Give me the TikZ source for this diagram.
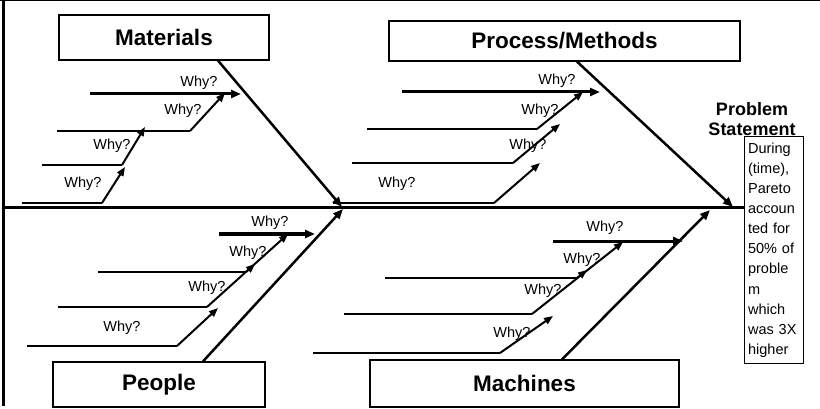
\documentclass[tikz,border=0pt]{standalone}
\usepackage{fontspec}
\setmainfont{Liberation Sans}
\usetikzlibrary{arrows.meta}
\begin{document}
\begin{tikzpicture}[x=1pt,y=-1pt,
  cat/.style={draw,line width=1.2pt,inner sep=0pt,font=\fontsize{22.5}{26}\selectfont\bfseries},
  why/.style={font=\fontsize{14.5}{16}\selectfont,inner sep=0pt},
  bone/.style={line width=2.5pt,-{Triangle[length=10pt,width=8pt]}},
  spine/.style={line width=3pt},
  twig/.style={line width=1.3pt},
  twigup/.style={line width=2pt,-{Triangle[length=9pt,width=7pt]}},
  lead/.style={line width=3pt,-{Triangle[length=10pt,width=8pt]}},
]
\useasboundingbox (0,0) rectangle (820,409);
% frame
\coordinate (ft0) at (0,0.5); \coordinate (ft1) at (820,0.5);
\draw[line width=1pt] (ft0) -- (ft1);
\coordinate (fl0) at (3.5,0); \coordinate (fl1) at (3.5,406);
\draw[line width=3pt] (fl0) -- (fl1);
% category boxes
\node[cat,minimum width=210pt,minimum height=45pt] (mat) at (164,37.5) {Materials};
\node[cat,minimum width=351pt,minimum height=40pt] (proc) at (564.5,41) {Process/Methods};
\node[cat,minimum width=212pt,minimum height=45pt] (peo) at (159,384.5) {People};
\node[cat,minimum width=309pt,minimum height=47pt] (mach) at (524.5,383.5) {Machines};
% problem statement
\node[font=\fontsize{18}{20}\selectfont\bfseries,align=center,inner sep=0pt] (pst) at (752,119) {Problem\\Statement};
\node[draw,line width=1.2pt,anchor=north west,text width=52pt,inner xsep=3.5pt,inner ysep=0pt,
      minimum height=227pt,align=left,font=\fontsize{14.5}{20.1}\selectfont] (ps) at (744,136)
      {During\\(time),\\Pareto\\accoun\\ted for\\50\% of\\proble\\m\\which\\was 3X\\higher};
% spine
\coordinate (sl) at (5,208);
\draw[spine] (sl) -- (ps.west |- sl);
% bones
\coordinate (mtip) at (342,207);
\coordinate (ptip) at (733,207);
\coordinate (etip) at (343,209);
\coordinate (ctip) at (710,210);
\draw[bone] ([xshift=54pt]mat.south) -- (mtip);
\draw[bone] ([xshift=12.5pt]proc.south) -- (ptip);
\draw[bone] ([xshift=44pt]peo.north) -- (etip);
\draw[bone] ([xshift=37.5pt]mach.north) -- (ctip);
% ---------- Materials branches
\coordinate (m1a) at (90,94); \coordinate (m1b) at (241,94);
\draw[lead] (m1a) -- (m1b);
\coordinate (m2a) at (57,131); \coordinate (m2b) at (190,131); \coordinate (m2c) at (225,93);
\draw[twig] (m2a) -- (m2b); \draw[twigup] (m2b) -- (m2c);
\coordinate (m3a) at (42,165); \coordinate (m3b) at (122,165); \coordinate (m3c) at (145,127);
\draw[twig] (m3a) -- (m3b); \draw[twigup] (m3b) -- (m3c);
\coordinate (m4a) at (22,203); \coordinate (m4b) at (102,203); \coordinate (m4c) at (125,167);
\draw[twig] (m4a) -- (m4b); \draw[twigup] (m4b) -- (m4c);
\node[why] (mw1) at (199,83) {Why?};
\node[why] (mw2) at (183,111) {Why?};
\node[why] (mw3) at (112,146) {Why?};
\node[why] (mw4) at (83,184) {Why?};
% ---------- Process branches
\coordinate (p1a) at (402,92); \coordinate (p1b) at (600,92);
\draw[lead] (p1a) -- (p1b);
\coordinate (p2a) at (367,129); \coordinate (p2b) at (537,129); \coordinate (p2c) at (583,92);
\draw[twig] (p2a) -- (p2b); \draw[twigup] (p2b) -- (p2c);
\coordinate (p3a) at (352,163); \coordinate (p3b) at (513,163); \coordinate (p3c) at (560,124);
\draw[twig] (p3a) -- (p3b); \draw[twigup] (p3b) -- (p3c);
\coordinate (p4a) at (333,203); \coordinate (p4b) at (494,203); \coordinate (p4c) at (540,163);
\draw[twig] (p4a) -- (p4b); \draw[twigup] (p4b) -- (p4c);
\node[why] (pw1) at (557,81) {Why?};
\node[why] (pw2) at (540,111) {Why?};
\node[why] (pw3) at (528,146) {Why?};
\node[why] (pw4) at (397,184) {Why?};
% ---------- People branches
\coordinate (e1a) at (219,234); \coordinate (e1b) at (315,234);
\draw[lead] (e1a) -- (e1b);
\coordinate (e2a) at (98,272); \coordinate (e2b) at (246,272); \coordinate (e2c) at (255,264);
\draw[twig] (e2a) -- (e2b); \draw[twigup] (e2b) -- (e2c);
\coordinate (e3a) at (58,307); \coordinate (e3b) at (207,307); \coordinate (e3c) at (288,234);
\draw[twig] (e3a) -- (e3b); \draw[twigup] (e3b) -- (e3c);
\coordinate (e4a) at (27,346); \coordinate (e4b) at (177,346); \coordinate (e4c) at (218,308);
\draw[twig] (e4a) -- (e4b); \draw[twigup] (e4b) -- (e4c);
\node[why] (ew1) at (270,223) {Why?};
\node[why] (ew2) at (248,253) {Why?};
\node[why] (ew3) at (207,288) {Why?};
\node[why] (ew4) at (122,328) {Why?};
% ---------- Machines branches
\coordinate (c1a) at (553,241); \coordinate (c1b) at (683,241);
\draw[lead] (c1a) -- (c1b);
\coordinate (c2a) at (385,278); \coordinate (c2b) at (577,278); \coordinate (c2c) at (587,270);
\draw[twig] (c2a) -- (c2b); \draw[twigup] (c2b) -- (c2c);
\coordinate (c3a) at (344,314); \coordinate (c3b) at (532,314); \coordinate (c3c) at (623,242);
\draw[twig] (c3a) -- (c3b); \draw[twigup] (c3b) -- (c3c);
\coordinate (c4a) at (313,353); \coordinate (c4b) at (500,353); \coordinate (c4c) at (553,316);
\draw[twig] (c4a) -- (c4b); \draw[twigup] (c4b) -- (c4c);
\node[why] (cw1) at (605,228) {Why?};
\node[why] (cw2) at (582,260) {Why?};
\node[why] (cw3) at (543,291) {Why?};
\node[why] (cw4) at (512,334) {Why?};
\end{tikzpicture}
\end{document}
